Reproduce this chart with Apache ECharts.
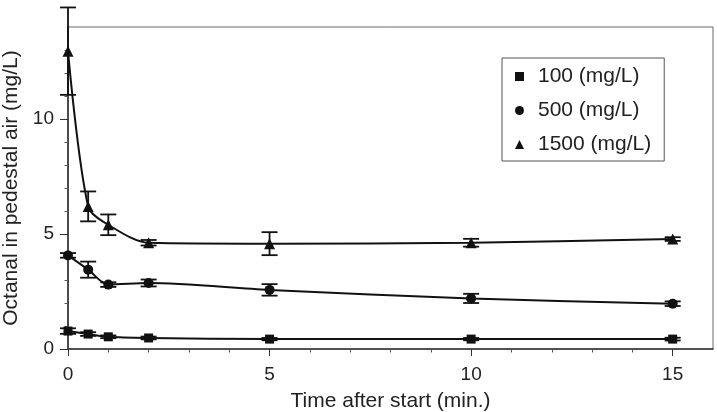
<!DOCTYPE html>
<html>
<head>
<meta charset="utf-8">
<script src="https://cdn.jsdelivr.net/npm/echarts@6/dist/echarts.min.js"></script>
<style>
html, body { margin: 0; padding: 0; background: #fff; }
#main { width: 717px; height: 412px; }
</style>
</head>
<body>
<div id="main"></div>
<script>
var times = [0, 0.5, 1, 2, 5, 10, 15];
var seriesNames = ['100 (mg/L)', '500 (mg/L)', '1500 (mg/L)'];
var conc100 = [0.78, 0.65, 0.53, 0.48, 0.43, 0.43, 0.43];
var err100 = [0.12, 0.08, 0.06, 0.06, 0.05, 0.05, 0.06];
var conc500 = [4.07, 3.45, 2.8, 2.87, 2.57, 2.2, 1.97];
var err500 = [0.1, 0.35, 0.1, 0.15, 0.25, 0.2, 0.1];
var conc1500 = [12.95, 6.2, 5.4, 4.62, 4.58, 4.62, 4.78];
var err1500 = [1.9, 0.65, 0.45, 0.12, 0.5, 0.17, 0.08];

// tick labels
var xMajorTicks = [0, 5, 10, 15];
var xMinorTicks = [1, 2, 3, 4, 6, 7, 8, 9, 11, 12, 13, 14];
var yMajorTicks = [0, 5, 10];
var yMinorTicks = [1, 2, 3, 4, 6, 7, 8, 9, 11, 12, 13];

var ink = '#111';
var textColor = '#222';
var fontFamily = '"Liberation Sans", Arial, Helvetica, sans-serif';

function points(vals) {
  return times.map(function (t, i) { return [t, vals[i]]; });
}
function bars(vals, errs) {
  return times.map(function (t, i) { return [t, vals[i] - errs[i], vals[i] + errs[i]]; });
}

function errorBar(params, api) {
  var x = api.value(0);
  var lo = api.coord([x, api.value(1)]);
  var hi = api.coord([x, api.value(2)]);
  var w = 8;
  var st = { stroke: ink, lineWidth: 1.8 };
  return {
    type: 'group',
    children: [
      { type: 'line', shape: { x1: lo[0], y1: lo[1], x2: hi[0], y2: hi[1] }, style: st },
      { type: 'line', shape: { x1: lo[0] - w, y1: lo[1], x2: lo[0] + w, y2: lo[1] }, style: st },
      { type: 'line', shape: { x1: hi[0] - w, y1: hi[1], x2: hi[0] + w, y2: hi[1] }, style: st }
    ]
  };
}

function lineSeries(name, vals, symbol, size) {
  return {
    name: name,
    type: 'line',
    data: points(vals),
    smooth: 0.3,
    symbol: symbol,
    symbolSize: size,
    lineStyle: { color: ink, width: 2 },
    itemStyle: { color: ink },
    z: 3
  };
}

function errSeries(vals, errs) {
  return {
    type: 'custom',
    renderItem: errorBar,
    data: bars(vals, errs),
    encode: { x: 0, y: [1, 2] },
    clip: false,
    silent: true,
    z: 4
  };
}

var myChart = echarts.init(document.getElementById('main'));
var option = {
  animation: false,
  grid: {
    left: 68, right: 4, top: 27, bottom: 63,
    outerBoundsMode: 'none',
    containLabel: false,
    show: true,
    borderColor: '#666',
    borderWidth: 1
  },
  legend: {
    orient: 'vertical',
    left: 502,
    top: 58,
    padding: [8, 13, 6, 13],
    itemGap: 13,
    itemWidth: 9,
    itemHeight: 9,
    borderColor: '#555',
    borderWidth: 1,
    textStyle: { color: textColor, fontSize: 21, fontFamily: fontFamily, padding: [0, 0, 0, 9] },
    data: [
      { name: seriesNames[0], icon: 'rect' },
      { name: seriesNames[1], icon: 'circle' },
      { name: seriesNames[2], icon: 'triangle' }
    ]
  },
  xAxis: [
    {
      type: 'value', min: 0, max: 16, interval: 5,
      name: 'Time after start (min.)',
      nameLocation: 'middle',
      nameGap: 42,
      nameTextStyle: { color: textColor, fontSize: 21, fontFamily: fontFamily },
      axisLine: { lineStyle: { color: '#333', width: 1.6 } },
      axisTick: { customValues: xMajorTicks, length: 7, lineStyle: { color: '#333' } },
      axisLabel: { customValues: xMajorTicks, margin: 16, color: textColor, fontSize: 19, fontFamily: fontFamily },
      splitLine: { show: false }
    },
    {
      type: 'value', min: 0, max: 16, interval: 5, position: 'bottom',
      axisLine: { show: false },
      axisTick: { customValues: xMinorTicks, length: 3.5, lineStyle: { color: '#555' } },
      axisLabel: { show: false },
      splitLine: { show: false }
    }
  ],
  yAxis: [
    {
      type: 'value', min: 0, max: 14, interval: 5,
      name: 'Octanal in pedestal air (mg/L)',
      nameLocation: 'middle',
      nameGap: 46,
      nameTextStyle: { color: textColor, fontSize: 21, fontFamily: fontFamily },
      axisLine: { show: true, lineStyle: { color: '#333', width: 1.6 } },
      axisTick: { show: true, customValues: yMajorTicks, length: 8, lineStyle: { color: '#333' } },
      axisLabel: { customValues: yMajorTicks, margin: 14, color: textColor, fontSize: 19, fontFamily: fontFamily },
      splitLine: { show: false }
    },
    {
      type: 'value', min: 0, max: 14, interval: 5, position: 'left',
      axisLine: { show: false },
      axisTick: { show: true, customValues: yMinorTicks, length: 3.5, lineStyle: { color: '#555' } },
      axisLabel: { show: false },
      splitLine: { show: false }
    }
  ],
  series: [
    lineSeries(seriesNames[0], conc100, 'rect', 9),
    lineSeries(seriesNames[1], conc500, 'circle', 10),
    lineSeries(seriesNames[2], conc1500, 'triangle', 11),
    errSeries(conc100, err100),
    errSeries(conc500, err500),
    errSeries(conc1500, err1500)
  ]
};
option && myChart.setOption(option);
</script>
</body>
</html>
